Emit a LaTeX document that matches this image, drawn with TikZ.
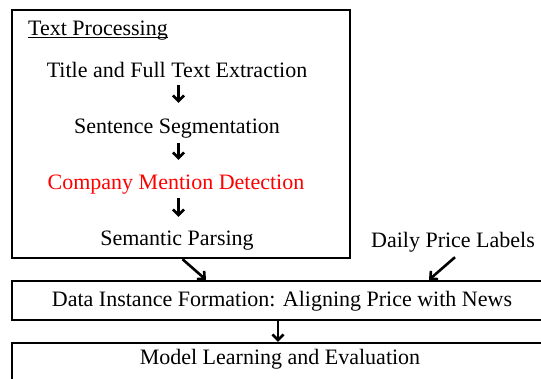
\documentclass[tikz,border=0pt]{standalone}
\usepackage{fontspec}
\setmainfont{Liberation Serif}
\usetikzlibrary{arrows.meta}
\begin{document}
\begin{tikzpicture}[x=1pt,y=-1pt,
  every node/.style={font=\fontsize{22}{26}\selectfont, inner sep=0pt,
    text height=15pt, text depth=5pt},
  frame/.style={draw, line width=2.4pt, minimum width=#1},
  label/.style={anchor=base},
  flow/.style={line width=2.6pt, -{Straight Barb[length=5.5pt,width=11pt]}},
]
\useasboundingbox (0,0) rectangle (541,378);
\clip (0,0) rectangle (541,378);

% frames
\node[frame=338, minimum height=248] (tp) at (181,134) {};
\node[frame=538, minimum height=39] (dbox) at (281,300.5) {};
\node[frame=538, minimum height=60] (mbox) at (281,373) {};

% text processing steps
\node[anchor=base west] (tpt) at (28,35) {Text Processing};
\draw[line width=1.1pt] ([yshift=-2.5pt]tpt.base west) -- ([yshift=-2.5pt]tpt.base east);
\node[label] (title) at (177,77) {Title and Full Text Extraction};
\node[label] (sent) at (177,133) {Sentence Segmentation};
\node[label, text=red] (comp) at (176,189) {Company Mention Detection};
\node[label] (sem) at (177,245) {Semantic Parsing};

% outside labels
\node[label] (daily) at (453,247) {Daily Price Labels};
\node[label] (dtext) at (282,306) {Data Instance Formation: Aligning Price with News};
\node[label] (mtext) at (280,364) {Model Learning and Evaluation};

% connectors
\draw[flow, shorten <=3pt, shorten >=15pt] ([xshift=1.5pt]title.south) -- ([xshift=1.5pt]sent.north);
\draw[flow, shorten <=5pt, shorten >=14pt] ([xshift=1.5pt]sent.south) -- ([xshift=2.5pt]comp.north);
\draw[flow, shorten <=4pt, shorten >=13pt] ([xshift=2.5pt]comp.south) -- ([xshift=1.5pt]sem.north);
\draw[flow] ([xshift=1.5pt]tp.south) -- ([xshift=-75pt]dbox.north);
\draw[flow] ([xshift=2pt,yshift=-5pt]daily.south) -- ([xshift=148pt]dbox.north);
\draw[flow] ([xshift=-3pt]dbox.south) -- ([xshift=-3pt]mbox.north);
\end{tikzpicture}
\end{document}
